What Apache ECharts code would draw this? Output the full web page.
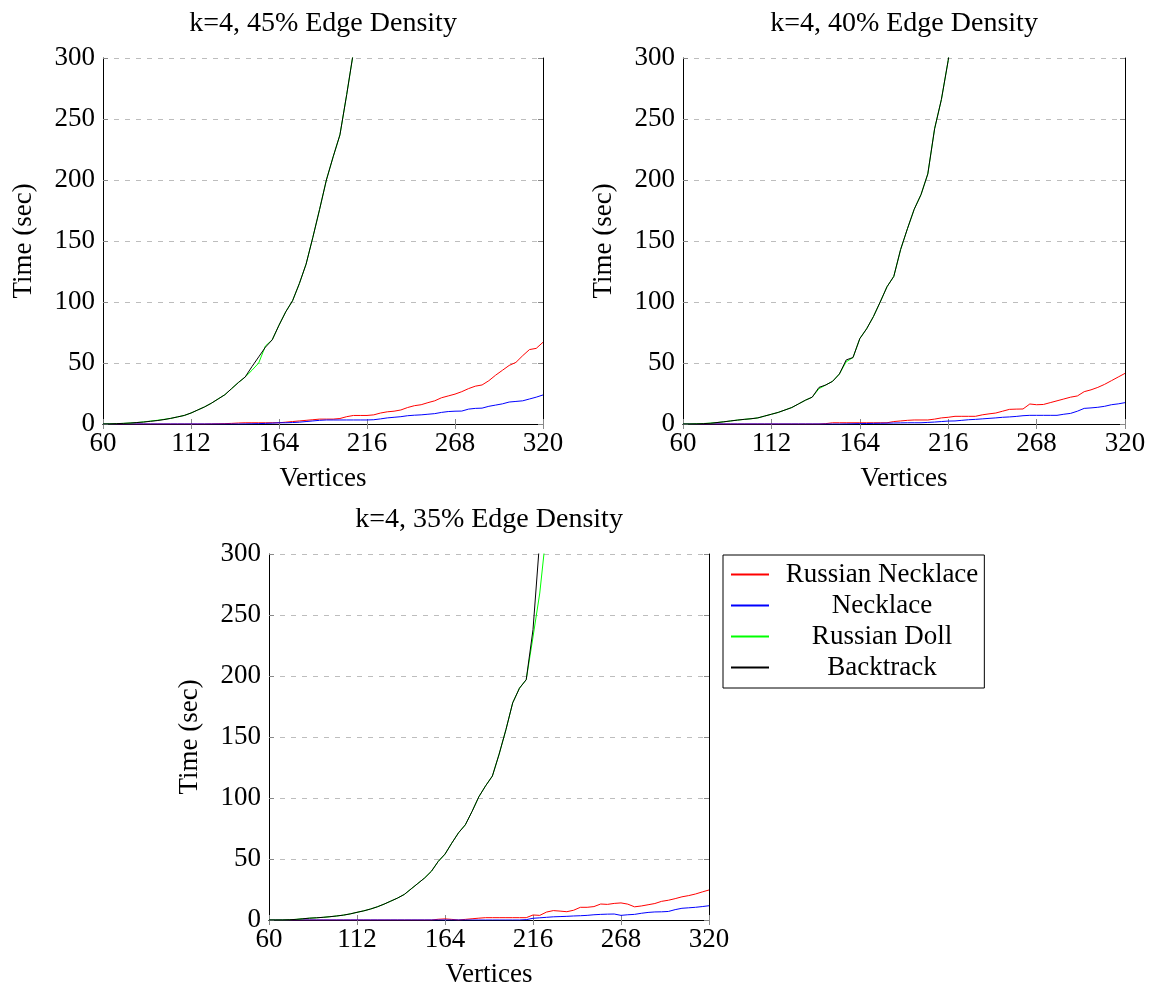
<!DOCTYPE html>
<html>
<head>
<meta charset="utf-8">
<script src="https://cdn.jsdelivr.net/npm/echarts@6/dist/echarts.min.js"></script>
<style>
  html, body { margin: 0; padding: 0; background: #fff; }
  #main { width: 1151px; height: 986px; }
</style>
</head>
<body>
<div id="main"></div>
<script>
// vertices on the x axis (one sample every 4)
var vertices = [60, 64, 68, 72, 76, 80, 84, 88, 92, 96, 100, 104, 108, 112, 116, 120, 124, 128, 132, 136,
    140, 144, 148, 152, 156, 160, 164, 168, 172, 176, 180, 184, 188, 192, 196, 200, 204, 208, 212, 216,
    220, 224, 228, 232, 236, 240, 244, 248, 252, 256, 260, 264, 268, 272, 276, 280, 284, 288, 292, 296,
    300, 304, 308, 312, 316, 320];
var xTicks = [60, 112, 164, 216, 268, 320];
var yTicks = [0, 50, 100, 150, 200, 250, 300];
var titles = ['k=4, 45% Edge Density', 'k=4, 40% Edge Density', 'k=4, 35% Edge Density'];
var names = ['Russian Necklace', 'Necklace', 'Russian Doll', 'Backtrack'];

// 45% edge density
var rn45 = [0, 0, 0, 0, 0, 0, 0, 0, 0, 0, 0, 0, 0, 0, 0, 0, 0.1, 0.2, 0.3, 0.5,
    0.8, 1, 1, 1, 1, 1, 1, 1.5, 2, 2.5, 3, 3.5, 4, 4, 4, 4.5, 6, 7, 7, 7,
    7.5, 9, 10, 10.5, 11.5, 13.5, 15, 15.8, 17.5, 19, 21.5, 23, 24.5, 26.5, 29, 31, 32, 35.5, 40, 44,
    48, 50.5, 56, 61, 62, 67];
var nk45 = [0, 0, 0, 0, 0, 0, 0, 0, 0, 0, 0, 0, 0, 0, 0, 0, 0, 0, 0, 0,
    0, 0.1, 0.2, 0.3, 0.5, 0.7, 1, 1, 1.2, 1.5, 2, 2.5, 3, 3.3, 3.3, 3.3, 3.3, 3.3, 3.3, 3.3,
    3.5, 4.2, 5, 5.5, 6, 6.8, 7.2, 7.5, 8, 8.5, 9.5, 10.2, 10.5, 10.6, 12.2, 12.8, 13, 14.5, 15.5, 16.5,
    18, 18.5, 19, 20.5, 22, 23.8];
var rd45 = [0, 0.1, 0.3, 0.5, 0.8, 1.2, 1.7, 2.4, 3, 3.8, 4.6, 5.8, 7, 9, 11.5, 14, 17, 20.5, 24, 29,
    34, 38.5, 44, 50, 64, 69, 81, 92, 101, 115, 131, 153, 176, 200, 219, 237, 270, 305];
var bt45 = [0, 0.1, 0.3, 0.5, 0.8, 1.2, 1.6, 2.2, 2.8, 3.6, 4.6, 5.8, 7, 9, 11.5, 14, 17, 20.5, 24, 29,
    34, 38.5, 47, 55, 63, 69, 81, 92, 101, 115, 131, 153, 176, 200, 219, 237, 270, 305];

// 40% edge density
var rn40 = [0, 0, 0, 0, 0, 0, 0, 0, 0, 0, 0, 0, 0, 0, 0, 0, 0, 0, 0, 0,
    0, 0.3, 1, 1, 1, 1, 1, 1, 1, 1, 1, 2, 2.5, 3, 3.3, 3.3, 3.3, 4, 5, 5.5,
    6.3, 6.3, 6.3, 6.3, 7.5, 8.3, 9, 10.5, 12, 12.2, 12.3, 16.4, 15.8, 16, 17.5, 19, 20.5, 22, 23, 26.5,
    28, 30, 32.5, 35.5, 38.5, 41.5];
var nk40 = [0, 0, 0, 0, 0, 0, 0, 0, 0, 0, 0, 0, 0, 0, 0, 0, 0, 0, 0, 0,
    0, 0, 0, 0, 0.1, 0.2, 0.3, 0.4, 0.5, 0.6, 0.7, 0.8, 0.9, 1, 1, 1, 1.3, 1.6, 2, 2.4,
    2.5, 3, 3.5, 3.8, 4.2, 4.6, 5, 5.5, 5.8, 6.2, 6.8, 7.1, 7.1, 7.1, 7.1, 7.1, 8, 8.7, 10.5, 12.8,
    13.2, 13.7, 14.5, 15.8, 16.5, 17.5];
var rd40 = [0, 0, 0.2, 0.4, 0.7, 1.2, 1.8, 2.5, 3.2, 3.8, 4.3, 5, 6.5, 8, 9.5, 11.5, 13.5, 16.5, 19.5, 22,
    29, 32, 35, 41, 51, 54.5, 70, 78, 88, 100, 112.5, 121, 143, 160, 176, 188, 205, 242, 266, 298, 340];
var bt40 = [0, 0, 0.1, 0.3, 0.6, 1.2, 1.8, 2.5, 3.2, 3.8, 4.3, 5, 6.5, 8, 9.5, 11.5, 13.5, 16.5, 19.5, 22,
    30, 32, 35, 41, 52.5, 54.5, 70, 78, 88, 100, 112.5, 121, 143, 160, 176, 188, 205, 242, 266, 298, 340];

// 35% edge density
var rn35 = [0, 0, 0, 0, 0, 0, 0, 0, 0, 0, 0, 0, 0, 0, 0, 0, 0, 0, 0, 0,
    0, 0, 0, 0, 0, 0.6, 0.9, 0.5, 0, 0.5, 1, 1.5, 1.9, 1.9, 1.9, 1.9, 1.9, 1.9, 1.9, 4.1,
    3.8, 6.5, 7.7, 7.3, 6.8, 8, 10.4, 10.4, 11, 13.1, 12.8, 13.6, 14, 13, 10.8, 11.5, 12.5, 13.5, 15.3, 16.2,
    17.5, 19, 20, 21.3, 23, 24.6];
var nk35 = [0, 0, 0, 0, 0, 0, 0, 0, 0, 0, 0, 0, 0, 0, 0, 0, 0, 0, 0, 0,
    0, 0, 0, 0, 0, 0, 0, 0, 0, 0, 0, 0, 0, 0, 0, 0, 0, 0, 0.3, 1.4,
    1.8, 2.2, 2.6, 2.8, 3, 3.3, 3.5, 3.8, 4.3, 4.6, 4.8, 4.9, 3.8, 4.3, 4.6, 5.5, 6.2, 6.6, 6.7, 7,
    8.5, 9.6, 10, 10.4, 11, 11.7];
var rd35 = [0, 0, 0, 0.2, 0.5, 1, 1.5, 1.8, 2.2, 2.7, 3.3, 4, 5, 6.3, 7.5, 9, 10.8, 13, 15.5, 18,
    21, 25.5, 30, 34.5, 40, 48, 54, 63, 71.5, 78, 89, 101, 110, 118, 136, 156, 178, 190, 197, 232,
    268, 320];
var bt35 = [0, 0, 0, 0.2, 0.5, 1, 1.5, 1.8, 2.2, 2.7, 3.3, 4, 5, 6.3, 7.5, 9, 10.8, 13, 15.5, 18,
    21, 25.5, 30, 34.5, 40, 48, 54, 63, 71.5, 78, 89, 101, 110, 118, 136, 156, 178, 190, 197, 238,
    312];

var plots = [
    { rn: rn45, nk: nk45, rd: rd45, bt: bt45 },
    { rn: rn40, nk: nk40, rd: rd40, bt: bt40 },
    { rn: rn35, nk: nk35, rd: rd35, bt: bt35 }
];
var colors = ['#ff0000', '#0000ff', '#00ff00', '#000000'];

var font = 'Liberation Serif';
var grids = [
    { left: 103, top: 58, width: 440, height: 366, outerBoundsMode: 'none' },
    { left: 683, top: 58, width: 442, height: 366, outerBoundsMode: 'none' },
    { left: 269, top: 554, width: 440, height: 366, outerBoundsMode: 'none' }
];

function pairs(ys) {
    return ys.map(function (y, i) { return [vertices[i], y]; });
}

var xAxes = [], yAxes = [], series = [], titleList = [];
grids.forEach(function (g, i) {
    // main axes
    xAxes.push({
        type: 'value', gridIndex: i, min: xTicks[0], max: xTicks[xTicks.length - 1], interval: 52,
        name: 'Vertices', nameLocation: 'middle', nameGap: 41,
        nameTextStyle: { fontFamily: font, fontSize: 27, color: '#000' },
        axisLine: { show: true, lineStyle: { color: '#000', width: 1 } },
        axisTick: { show: true, inside: true, length: 5, lineStyle: { color: '#888' } },
        axisLabel: { fontFamily: font, fontSize: 27, color: '#000', margin: 6 },
        splitLine: { show: false }
    });
    yAxes.push({
        type: 'value', gridIndex: i, min: yTicks[0], max: yTicks[yTicks.length - 1], interval: 50,
        name: 'Time (sec)', nameLocation: 'middle', nameGap: 66,
        nameTextStyle: { fontFamily: font, fontSize: 27, color: '#000' },
        axisLine: { show: true, lineStyle: { color: '#000', width: 1 } },
        axisTick: { show: true, inside: true, length: 5, lineStyle: { color: '#888' } },
        axisLabel: { fontFamily: font, fontSize: 27, color: '#000', margin: 8 },
        splitLine: { show: true, lineStyle: { color: '#bdbdbd', type: [5, 6], width: 1 } }
    });
    titleList.push({
        text: titles[i], left: g.left + g.width / 2 - 5, top: g.top - 53, textAlign: 'center',
        textStyle: { fontFamily: font, fontSize: 28, fontWeight: 'normal', color: '#000' }
    });
});
// top / right frame with inner ticks
grids.forEach(function (g, i) {
    xAxes.push({
        type: 'value', gridIndex: i, position: 'top', min: xTicks[0], max: xTicks[xTicks.length - 1], interval: 52,
        axisLine: { show: true, lineStyle: { color: '#000', width: 1 } },
        axisTick: { show: true, inside: true, length: 5, lineStyle: { color: '#888' } },
        axisLabel: { show: false }, splitLine: { show: false }
    });
    yAxes.push({
        type: 'value', gridIndex: i, position: 'right', min: yTicks[0], max: yTicks[yTicks.length - 1], interval: 50,
        axisLine: { show: true, lineStyle: { color: '#000', width: 1 } },
        axisTick: { show: true, inside: true, length: 5, lineStyle: { color: '#888' } },
        axisLabel: { show: false }, splitLine: { show: false }
    });
});

plots.forEach(function (p, i) {
    [p.rn, p.nk, p.rd, p.bt].forEach(function (ys, k) {
        series.push({
            name: names[k], type: 'line', xAxisIndex: i, yAxisIndex: i,
            data: pairs(ys), symbol: 'none', clip: true,
            lineStyle: { color: colors[k], width: 1 }, itemStyle: { color: colors[k] }
        });
    });
});

var myChart = echarts.init(document.getElementById('main'));
var option = {
    animation: false,
    backgroundColor: '#fff',
    title: titleList,
    grid: grids,
    xAxis: xAxes,
    yAxis: yAxes,
    legend: {
        data: names, orient: 'vertical', left: 723, top: 555,
        padding: [6, 6, 7, 8], itemGap: 4, itemWidth: 38, itemHeight: 2, icon: 'rect',
        borderColor: '#000', borderWidth: 1, backgroundColor: '#fff',
        formatter: function (n) { return '{a|' + n + '}'; },
        textStyle: {
            fontFamily: font, fontSize: 27, color: '#000',
            rich: { a: { fontFamily: font, fontSize: 27, width: 216, align: 'center' } }
        }
    },
    series: series
};
myChart.setOption(option);
</script>
</body>
</html>
